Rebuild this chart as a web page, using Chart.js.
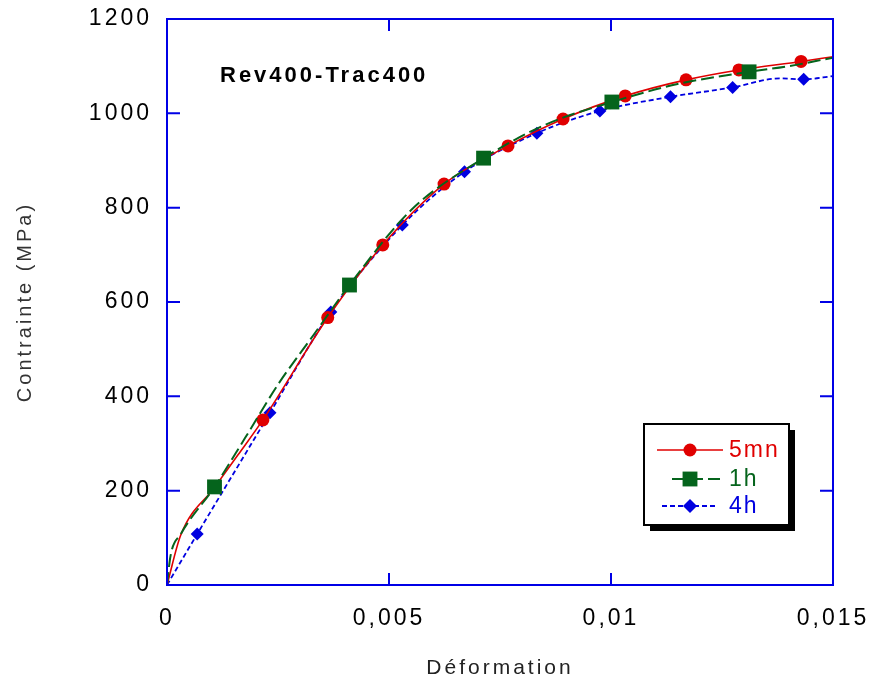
<!DOCTYPE html>
<html>
<head>
<meta charset="utf-8">
<script src="https://cdn.jsdelivr.net/npm/chart.js@4"></script>
<style>
  html, body { margin: 0; padding: 0; background: #fff; }
  #wrap { width: 874px; height: 687px; }
</style>
</head>
<body>
<div id="wrap"><canvas id="myChart"></canvas></div>
<script>
// donnees (deformation / contrainte en MPa)
const xRouge = [0, 0.00031, 0.00107, 0.0016, 0.00216, 0.00362, 0.00486, 0.00624, 0.00768, 0.00892, 0.01032, 0.01169, 0.01288, 0.01428, 0.015];
const yRouge = [0, 106, 207, 276, 350, 567, 721, 850, 931, 988, 1037, 1071, 1092, 1110, 1120];
const marqRouge = [4, 5, 6, 7, 8, 9, 10, 11, 12, 13];

const xVert = [0, 0.00008, 0.00031, 0.00107, 0.00176, 0.0025, 0.0033, 0.00411, 0.0055, 0.00713, 0.0085, 0.01002, 0.0115, 0.01311, 0.014, 0.015];
const yVert = [0, 62, 108, 208, 312, 425, 530, 636, 795, 905, 975, 1024, 1062, 1088, 1100, 1118];
const marqVert = [3, 7, 9, 11, 13];

const xBleu = [0, 0.00068, 0.00232, 0.00369, 0.0053, 0.0067, 0.00833, 0.00975, 0.01134, 0.01274, 0.0138, 0.01434, 0.015];
const yBleu = [0, 108, 365, 579, 763, 876, 958, 1005, 1035, 1055, 1074, 1072, 1079];
const marqBleu = [1, 2, 3, 4, 5, 6, 7, 8, 9, 11];

const nomsSeries = ['5mn', '1h', '4h'];
const ticksX = [0, 0.005, 0.01, 0.015];
const ticksY = [0, 200, 400, 600, 800, 1000, 1200];

const rouge = '#e00000';
const vert = '#05641c';
const bleu = '#0000e0';
const cadre = '#0000e6';

function points(xs, ys) {
  return xs.map((x, i) => ({ x: x, y: ys[i] }));
}
function rayons(n, idx, r) {
  const out = [];
  for (let i = 0; i < n; i++) out.push(idx.includes(i) ? r : 0);
  return out;
}

Chart.defaults.font.family = '"Liberation Sans", Arial, sans-serif';
Chart.defaults.color = '#000';

// cadre bleu + graduations vers l'interieur + titre + legende
const decor = {
  id: 'decor',
  beforeLayout(chart) {
    chart.ctx.letterSpacing = '3px';
  },
  beforeDraw(chart) {
    chart.ctx.letterSpacing = '3px';
  },
  afterDraw(chart) {
    const ctx = chart.ctx;
    const a = chart.chartArea;
    const sx = chart.scales.x, sy = chart.scales.y;
    ctx.save();
    ctx.letterSpacing = '0px';
    ctx.strokeStyle = cadre;
    ctx.lineWidth = 2;
    ctx.strokeRect(a.left, a.top, a.right - a.left, a.bottom - a.top);
    ctx.beginPath();
    ticksX.forEach(v => {
      const px = sx.getPixelForValue(v);
      ctx.moveTo(px, a.bottom); ctx.lineTo(px, a.bottom - 12);
      ctx.moveTo(px, a.top); ctx.lineTo(px, a.top + 12);
    });
    ticksY.forEach(v => {
      const py = sy.getPixelForValue(v);
      ctx.moveTo(a.left, py); ctx.lineTo(a.left + 13, py);
      ctx.moveTo(a.right, py); ctx.lineTo(a.right - 13, py);
    });
    ctx.stroke();

    // titre dans le graphe
    ctx.letterSpacing = '3px';
    ctx.fillStyle = '#000';
    ctx.font = 'bold 22px "Liberation Sans", Arial, sans-serif';
    ctx.textBaseline = 'middle';
    ctx.textAlign = 'left';
    ctx.fillText('Rev400-Trac400', 220, 76);

    // legende
    const bx = 644, by = 424, bw = 145, bh = 101;
    ctx.fillStyle = '#000';
    ctx.fillRect(bx + 6, by + 6, bw, bh);
    ctx.fillStyle = '#fff';
    ctx.fillRect(bx, by, bw, bh);
    ctx.strokeStyle = '#000';
    ctx.lineWidth = 2;
    ctx.strokeRect(bx, by, bw, bh);
    const lignes = [[657, 723, 450], [672, 720, 479], [662, 718, 506]];
    chart.data.datasets.forEach((ds, i) => {
      const [x0, x1, y] = lignes[i];
      ctx.strokeStyle = ds.borderColor;
      ctx.lineWidth = ds.borderWidth;
      ctx.setLineDash(ds.borderDash || []);
      ctx.beginPath();
      ctx.moveTo(x0, y); ctx.lineTo(x1, y);
      ctx.stroke();
      ctx.setLineDash([]);
      ctx.fillStyle = ds.borderColor;
      ctx.lineWidth = 0;
      Chart.helpers.drawPoint(ctx, {
        pointStyle: ds.pointStyle, radius: ds.legendRadius, rotation: 0, borderWidth: 0
      }, 690, y);
      ctx.fillStyle = ds.borderColor;
      ctx.font = '23px "Liberation Sans", Arial, sans-serif';
      ctx.letterSpacing = '2px';
      ctx.fillText(ds.label, 729, y + 1);
    });
    ctx.restore();
  }
};

const ctx = document.getElementById('myChart').getContext('2d');
const myChart = new Chart(ctx, {
  type: 'line',
  data: {
    datasets: [
      {
        label: nomsSeries[0],
        data: points(xRouge, yRouge),
        borderColor: rouge, backgroundColor: rouge,
        borderWidth: 1.6,
        pointStyle: 'circle',
        pointRadius: rayons(xRouge.length, marqRouge, 6.5),
        pointBorderWidth: 0,
        legendRadius: 6.5,
        cubicInterpolationMode: 'monotone',
        order: 1
      },
      {
        label: nomsSeries[1],
        data: points(xVert, yVert),
        borderColor: vert, backgroundColor: vert,
        borderWidth: 2,
        borderDash: [13, 5],
        pointStyle: 'rect',
        pointRadius: rayons(xVert.length, marqVert, 10.5),
        pointBorderWidth: 0,
        legendRadius: 10.5,
        cubicInterpolationMode: 'monotone',
        order: 0
      },
      {
        label: nomsSeries[2],
        data: points(xBleu, yBleu),
        borderColor: bleu, backgroundColor: bleu,
        borderWidth: 1.8,
        borderDash: [5, 3],
        pointStyle: 'rectRot',
        pointRadius: rayons(xBleu.length, marqBleu, 6.5),
        pointBorderWidth: 0,
        legendRadius: 7,
        cubicInterpolationMode: 'monotone',
        order: 2
      }
    ]
  },
  options: {
    responsive: true,
    maintainAspectRatio: false,
    animation: false,
    layout: { padding: { top: 19, right: 41, left: 0, bottom: 0 } },
    plugins: {
      legend: { display: false },
      tooltip: { enabled: false }
    },
    scales: {
      x: {
        type: 'linear',
        min: 0, max: 0.015,
        afterFit(scale) { scale.height = 102; scale.paddingLeft = 0; scale.paddingRight = 0; },
        afterBuildTicks(scale) { scale.ticks = ticksX.map(v => ({ value: v })); },
        grid: { display: false, drawTicks: false },
        border: { display: false },
        ticks: {
          padding: 20,
          font: { size: 23 },
          color: '#000',
          callback: v => String(v).replace('.', ',')
        },
        title: {
          display: true,
          text: 'Déformation',
          font: { size: 21 },
          color: '#222',
          padding: { top: 0, bottom: 6 }
        }
      },
      y: {
        min: 0, max: 1200,
        afterFit(scale) { scale.width = 167; scale.paddingTop = 0; scale.paddingBottom = 0; },
        afterBuildTicks(scale) { scale.ticks = ticksY.map(v => ({ value: v })); },
        grid: { display: false, drawTicks: false },
        border: { display: false },
        ticks: {
          padding: 15,
          font: { size: 23 },
          color: '#000',
          callback: v => String(v)
        },
        title: {
          display: true,
          text: 'Contrainte (MPa)',
          font: { size: 20 },
          color: '#333',
          padding: { top: 13, bottom: 0 }
        }
      }
    }
  },
  plugins: [decor]
});
</script>
</body>
</html>
